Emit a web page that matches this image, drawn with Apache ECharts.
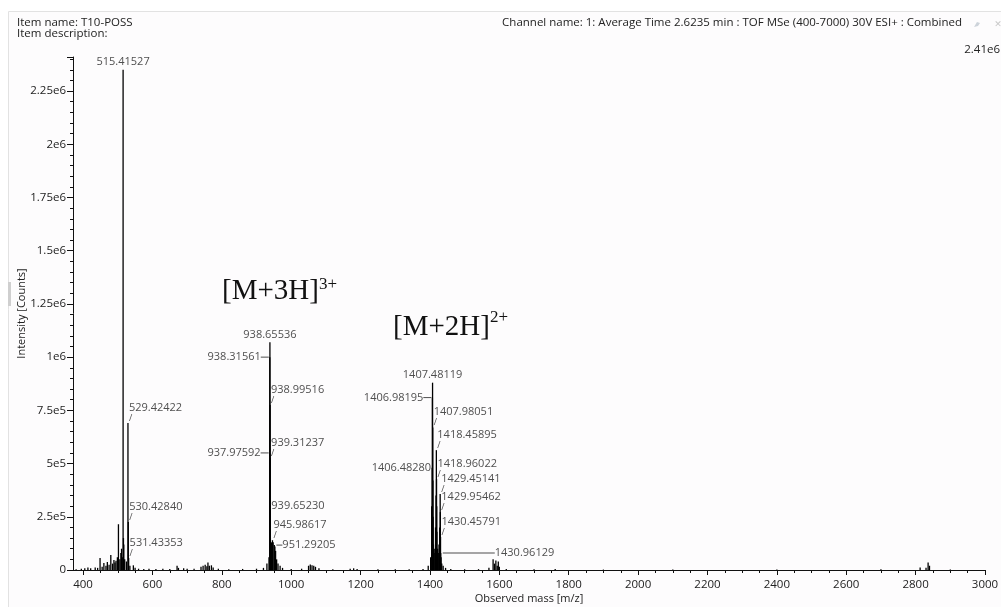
<!DOCTYPE html>
<html>
<head>
<meta charset="utf-8">
<script src="https://cdn.jsdelivr.net/npm/echarts@6/dist/echarts.min.js"></script>
<style>html,body{margin:0;padding:0;background:#fff;}#c{width:1001px;height:607px;}</style>
</head>
<body>
<div id="c"></div>
<script>
// ---- data ----
const xMin = 371, xMax = 3000;
const yMax = 2.41e6;
const xTicks = [400, 600, 800, 1000, 1200, 1400, 1600, 1800, 2000, 2200, 2400, 2600, 2800, 3000];
const xMinorTicks = [450, 500, 550, 650, 700, 750, 850, 900, 950, 1050, 1100, 1150, 1250, 1300, 1350, 1450, 1500, 1550, 1650, 1700, 1750, 1850, 1900, 1950, 2050, 2100, 2150, 2250, 2300, 2350, 2450, 2500, 2550, 2650, 2700, 2750, 2850, 2900, 2950];
const yTickLabels = ['0', '2.5e5', '5e5', '7.5e5', '1e6', '1.25e6', '1.5e6', '1.75e6', '2e6', '2.25e6'];

// unlabelled sticks (m/z, intensity in counts)
const peakMz = [380, 395, 405, 414, 422, 435, 442, 449, 455, 460, 466, 470, 475, 480, 485, 489, 492, 495, 499, 502, 506, 509, 511, 513, 516.42, 517.4, 520, 525, 535, 545, 550, 560, 575, 590, 610, 630, 650, 671, 675, 690, 700, 720, 740, 746, 752, 757, 760, 764, 770, 775, 790, 820, 860, 900, 920, 930, 936, 940, 941, 943, 948, 953, 955, 958, 962, 968, 975, 1000, 1030, 1050, 1055, 1060, 1065, 1070, 1080, 1120, 1170, 1180, 1190, 1250, 1300, 1340, 1380, 1395, 1402, 1405, 1408.48, 1409, 1410, 1412, 1414, 1416, 1417.5, 1419.5, 1420, 1422, 1424, 1426, 1428, 1432, 1434, 1438, 1445, 1460, 1500, 1540, 1570, 1582, 1586, 1590, 1594, 1597, 1600, 1620, 1700, 1761, 1900, 2100, 2400, 2700, 2813, 2830, 2836, 2840, 2900];
const peakInt = [4e3, 6e3, 8e3, 12e3, 8e3, 12e3, 10e3, 56e3, 15e3, 33e3, 20e3, 37e3, 25e3, 70e3, 30e3, 47e3, 35e3, 44e3, 60e3, 215e3, 50e3, 80e3, 100e3, 60e3, 150e3, 120e3, 50e3, 40e3, 20e3, 22e3, 10e3, 6e3, 5e3, 6e3, 5e3, 6e3, 5e3, 20e3, 10e3, 8e3, 6e3, 6e3, 15e3, 20e3, 25e3, 18e3, 35e3, 20e3, 22e3, 12e3, 6e3, 4e3, 5e3, 6e3, 10e3, 30e3, 60e3, 150e3, 120e3, 130e3, 130e3, 110e3, 90e3, 50e3, 30e3, 20e3, 10e3, 5e3, 6e3, 20e3, 26e3, 22e3, 20e3, 15e3, 8e3, 4e3, 6e3, 8e3, 5e3, 4e3, 4e3, 3e3, 5e3, 20e3, 60e3, 300e3, 420e3, 250e3, 120e3, 80e3, 100e3, 200e3, 350e3, 300e3, 180e3, 100e3, 80e3, 120e3, 200e3, 60e3, 30e3, 20e3, 10e3, 5e3, 4e3, 4e3, 10e3, 50e3, 30e3, 45e3, 20e3, 40e3, 15e3, 5e3, 3e3, 5e3, 2e3, 2e3, 2e3, 3e3, 12e3, 10e3, 35e3, 20e3, 2e3];

// labelled sticks
const labelMz = [515.41527, 529.42422, 530.42840, 531.43353, 938.65536, 938.31561, 938.99516, 937.97592, 939.31237, 939.65230, 945.98617, 951.29205, 1407.48119, 1406.98195, 1407.98051, 1418.45895, 1406.48280, 1418.96022, 1429.45141, 1429.95462, 1430.45791, 1430.96129];
const labelInt = [2.35e6, 0.69e6, 0.225e6, 0.056e6, 1.07e6, 1.0e6, 0.775e6, 0.55e6, 0.526e6, 0.30e6, 0.14e6, 0.117e6, 0.88e6, 0.81e6, 0.67e6, 0.563e6, 0.48e6, 0.427e6, 0.357e6, 0.272e6, 0.155e6, 0.08e6];
const labelKind = ['top', 'slash', 'slash', 'slash', 'top', 'dashL', 'slash', 'dashL', 'slash', 'right', 'slash', 'dashR', 'top', 'dashL', 'slash', 'slash', 'left', 'slash', 'slash', 'slash', 'slash', 'longR'];

// ---- chart ----
const FONT = 'Open Sans';
const TXT = '#222';
const AX = '#111';
const tStyle = {fontFamily: FONT, fontSize: 11, color: TXT, lineHeight: 13};

function labelFor(kind, txt) {
  const base = {show: true, color: TXT, fontFamily: FONT, fontSize: 11};
  switch (kind) {
    case 'top': return Object.assign(base, {position: 'top', distance: 2, formatter: txt});
    case 'left': return Object.assign(base, {position: 'left', distance: 1, formatter: txt});
    case 'right': return Object.assign(base, {position: 'right', distance: 1, formatter: txt});
    case 'dashL': return Object.assign(base, {position: 'left', distance: 1, formatter: '{t|' + txt + '}{d| }',
      rich: {t: tStyle, d: {width: 8, height: 1, backgroundColor: TXT}}});
    case 'dashR': return Object.assign(base, {position: 'right', distance: 2, formatter: '{d| }{t|' + txt + '}',
      rich: {t: tStyle, d: {width: 6, height: 1, backgroundColor: TXT}}});
    case 'longR': return Object.assign(base, {position: 'right', distance: 2, formatter: '{d| }{t|' + txt + '}',
      rich: {t: tStyle, d: {width: 52, height: 1, backgroundColor: TXT}}});
    case 'slash': return Object.assign(base, {position: 'insideBottomLeft', distance: 1, formatter: '{t|' + txt + '}\n{s|/}',
      rich: {t: tStyle, s: {fontFamily: FONT, fontSize: 9, lineHeight: 8, color: TXT}}});
  }
}

const barData = [];
peakMz.forEach((m, i) => barData.push([m, peakInt[i]]));
labelMz.forEach((m, i) => barData.push([m, labelInt[i]]));

const labelData = labelMz.map((m, i) => ({
  value: [m, labelInt[i]],
  label: labelFor(labelKind[i], m.toFixed(5))
}));

const chart = echarts.init(document.getElementById('c'), null, {renderer: 'canvas'});
chart.setOption({
  animation: false,
  backgroundColor: '#ffffff',
  grid: {left: 73, right: 16, top: 57, bottom: 37, containLabel: false, outerBoundsMode: 'none'},
  xAxis: [{
    type: 'value', min: xMin, max: xMax, position: 'bottom',
    axisLine: {show: true, onZero: false, lineStyle: {color: AX, width: 1}},
    axisTick: {show: true, customValues: xTicks, length: 5, lineStyle: {color: AX}},
    axisLabel: {customValues: xTicks, margin: 9, color: TXT, fontFamily: FONT, fontSize: 11.5, formatter: v => String(v)},
    splitLine: {show: false},
    name: 'Observed mass [m/z]', nameLocation: 'middle', nameGap: 23, nameMoveOverlap: false,
    nameTextStyle: {color: TXT, fontFamily: FONT, fontSize: 11}
  }, {
    type: 'value', min: xMin, max: xMax, position: 'bottom',
    axisLine: {show: false, onZero: false},
    axisTick: {show: true, customValues: xMinorTicks, length: 3, lineStyle: {color: AX}},
    axisLabel: {show: false}, splitLine: {show: false}
  }],
  yAxis: {
    type: 'value', min: 0, max: yMax, interval: 2.5e5,
    axisLine: {show: true, lineStyle: {color: AX, width: 1}},
    axisTick: {show: true, length: 6, lineStyle: {color: AX}},
    minorTick: {show: true, splitNumber: 5, length: 3, lineStyle: {color: AX}},
    axisLabel: {margin: 7, color: TXT, fontFamily: FONT, fontSize: 11.5,
      formatter: v => { const k = Math.round(v / 2.5e5); return Math.abs(v - k * 2.5e5) < 1 && k < yTickLabels.length ? yTickLabels[k] : ''; }},
    splitLine: {show: false},
    name: 'Intensity [Counts]', nameLocation: 'middle', nameGap: 46, nameRotate: 90, nameMoveOverlap: false,
    nameTextStyle: {color: TXT, fontFamily: FONT, fontSize: 11}
  },
  series: [{
    type: 'bar', xAxisIndex: 0, data: barData, barWidth: 1.3,
    itemStyle: {color: '#000'}, silent: true, z: 2
  }, {
    type: 'scatter', xAxisIndex: 0, data: labelData, symbolSize: 0.1,
    itemStyle: {color: 'rgba(0,0,0,0)'}, silent: true, z: 5
  }],
  graphic: [
    {type: 'rect', z: -10, shape: {x: 8.5, y: 11.5, width: 1000, height: 600}, style: {fill: '#fdfcfd', stroke: '#e2e2e2', lineWidth: 1}},
    {type: 'rect', z: -9, shape: {x: 8, y: 282, width: 3, height: 24}, style: {fill: '#cfcfcf'}},
    {type: 'text', style: {text: 'Item name: T10-POSS', x: 17, y: 23, font: '11.5px "Open Sans"', fill: TXT, textVerticalAlign: 'middle'}},
    {type: 'text', style: {text: 'Item description:', x: 17, y: 34, font: '11.5px "Open Sans"', fill: TXT, textVerticalAlign: 'middle'}},
    {type: 'text', style: {text: 'Channel name: 1: Average Time 2.6235 min : TOF MSe (400-7000) 30V ESI+ : Combined', x: 962, y: 23, font: '11.5px "Open Sans"', fill: TXT, textAlign: 'right', textVerticalAlign: 'middle'}},
    {type: 'text', style: {text: '\u2715', x: 998, y: 25, font: '9px "DejaVu Sans"', fill: '#c8c8c8', textAlign: 'center', textVerticalAlign: 'middle'}},
    {type: 'polygon', shape: {points: [[974, 27], [977, 22], [980, 23], [978, 26]]}, style: {fill: '#cdd3da'}},
    {type: 'text', style: {text: '2.41e6', x: 1000, y: 50, font: '11.5px "Open Sans"', fill: TXT, textAlign: 'right', textVerticalAlign: 'middle'}},
    {type: 'text', style: {text: '[M+3H]', x: 222, y: 291, font: '29px "Liberation Serif"', fill: '#111', textVerticalAlign: 'middle'}},
    {type: 'text', style: {text: '3+', x: 319, y: 285, font: '17px "Liberation Serif"', fill: '#111', textVerticalAlign: 'middle'}},
    {type: 'text', style: {text: '[M+2H]', x: 393, y: 327, font: '29px "Liberation Serif"', fill: '#111', textVerticalAlign: 'middle'}},
    {type: 'text', style: {text: '2+', x: 490, y: 318, font: '17px "Liberation Serif"', fill: '#111', textVerticalAlign: 'middle'}}
  ]
});
</script>
</body>
</html>
